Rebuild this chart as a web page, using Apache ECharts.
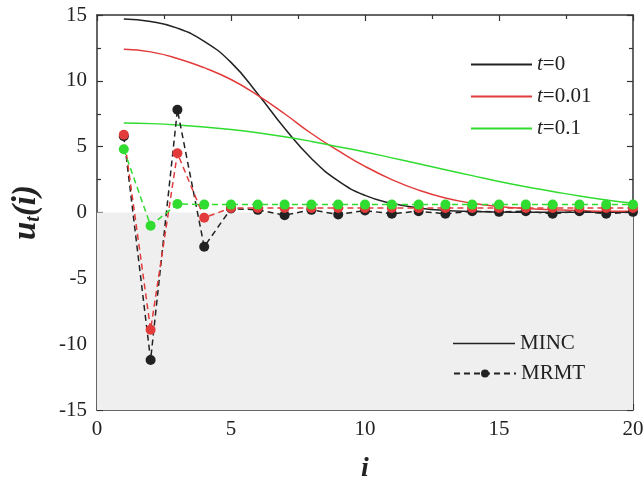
<!DOCTYPE html>
<html>
<head>
<meta charset="utf-8">
<script src="https://cdn.jsdelivr.net/npm/echarts@6/dist/echarts.min.js"></script>
<style>
  html, body { margin: 0; padding: 0; background: #fff; }
  #main { width: 643px; height: 480px; }
</style>
</head>
<body>
<div id="main"></div>
<script>
// index i
const idx = [1, 2, 3, 4, 5, 6, 7, 8, 9, 10, 11, 12, 13, 14, 15, 16, 17, 18, 19, 20];

// MINC curves
const mincT0   = [14.7, 14.5, 14.0, 13.0, 11.4, 9.0, 6.4, 4.1, 2.4, 1.3, 0.7, 0.35, 0.15, 0.08, 0.04, 0.02, 0.01, 0.01, 0.01, 0.01];
const mincT001 = [12.4, 12.2, 11.7, 11.0, 10.1, 8.9, 7.5, 6.0, 4.7, 3.5, 2.5, 1.7, 1.1, 0.7, 0.45, 0.3, 0.2, 0.15, 0.1, 0.1];
const mincT01  = [6.8, 6.75, 6.65, 6.5, 6.3, 6.05, 5.75, 5.4, 5.0, 4.6, 4.15, 3.7, 3.25, 2.8, 2.35, 1.95, 1.6, 1.25, 0.95, 0.7];

// MRMT points
const mrmtT0   = [5.8, -11.2, 7.8, -2.6, 0.3, 0.2, -0.2, 0.2, -0.15, 0.15, -0.1, 0.1, -0.1, 0.1, 0.05, 0.1, -0.1, 0.1, -0.1, 0.05];
const mrmtT001 = [5.9, -8.9, 4.5, -0.4, 0.35, 0.35, 0.35, 0.35, 0.35, 0.35, 0.35, 0.35, 0.35, 0.35, 0.35, 0.35, 0.35, 0.35, 0.35, 0.35];
const mrmtT01  = [4.8, -1.0, 0.65, 0.6, 0.6, 0.6, 0.6, 0.6, 0.6, 0.6, 0.6, 0.6, 0.6, 0.6, 0.6, 0.6, 0.6, 0.6, 0.6, 0.6];

const cBlack = '#222222';
const cRed = '#e23b3b';
const cGreen = '#2fdc2f';
const serif = 'Liberation Serif';

function pairs(ys) { return idx.map((x, k) => [x, ys[k]]); }

let myChart = echarts.init(document.getElementById('main'));

function curve(name, ys, color) {
    return {
        name: name, type: 'line', data: pairs(ys), smooth: true, symbol: 'none',
        lineStyle: { color: color, width: 1.5 }, itemStyle: { color: color }, z: 3
    };
}
function dots(name, ys, color) {
    return {
        name: name, type: 'line', data: pairs(ys), symbol: 'circle', symbolSize: 10,
        lineStyle: { color: color, width: 1.5, type: [6, 4] }, itemStyle: { color: color }, z: 4
    };
}

const tickAxisX = (show) => ({
    type: 'value', min: 0, max: 20, interval: 5,
    axisLine: { show: true, onZero: false, lineStyle: { color: '#333', width: 1.5 } },
    axisTick: { show: true, inside: true, length: 6, lineStyle: { color: '#333', width: 1.2 } },
    minorTick: { show: true, splitNumber: 2, length: 4, lineStyle: { color: '#333', width: 1.2 } },
    axisLabel: { show: show, color: '#222', fontFamily: serif, fontSize: 21, margin: 9 },
    splitLine: { show: false }
});
const tickAxisY = (show) => ({
    type: 'value', min: -15, max: 15, interval: 5,
    axisLine: { show: true, onZero: false, lineStyle: { color: '#333', width: 1.5 } },
    axisTick: { show: true, inside: true, length: 6, lineStyle: { color: '#333', width: 1.2 } },
    minorTick: { show: true, splitNumber: 2, length: 4, lineStyle: { color: '#333', width: 1.2 } },
    axisLabel: { show: show, color: '#222', fontFamily: serif, fontSize: 21, margin: 10 },
    splitLine: { show: false }
});

let xBottom = Object.assign(tickAxisX(true), {
    position: 'bottom',
    name: 'i', nameLocation: 'middle', nameGap: 45,
    nameTextStyle: { fontFamily: serif, fontSize: 28, fontStyle: 'italic', fontWeight: 'bold', color: '#222' }
});
let xTop = Object.assign(tickAxisX(false), { position: 'top' });
let yLeft = Object.assign(tickAxisY(true), {
    position: 'left',
    name: '{u|u}{s|t}{u|(i)}', nameLocation: 'middle', nameGap: 53, nameRotate: 90,
    nameTextStyle: {
        color: '#222',
        rich: {
            u: { fontFamily: serif, fontSize: 33, fontStyle: 'italic', fontWeight: 'bold', color: '#222' },
            s: { fontFamily: serif, fontSize: 20, fontStyle: 'italic', fontWeight: 'bold', color: '#222', padding: [16, 0, 0, 0] }
        }
    }
});
let yRight = Object.assign(tickAxisY(false), { position: 'right' });

let legendText = {
    fontFamily: serif, fontSize: 21, color: '#222',
    rich: { i: { fontFamily: serif, fontSize: 21, fontStyle: 'italic', color: '#222' } }
};

let option = {
    animation: false,
    backgroundColor: '#fff',
    grid: { left: 97, right: 10, top: 15, bottom: 70, outerBoundsMode: 'none', containLabel: false },
    xAxis: [xBottom, xTop],
    yAxis: [yLeft, yRight],
    legend: [
        {
            data: ['t=0', 't=0.01', 't=0.1'],
            orient: 'vertical', left: 466, top: 49, itemGap: 11,
            icon: 'rect', itemWidth: 61, itemHeight: 2,
            formatter: (name) => '{i|t}' + name.slice(1),
            textStyle: legendText
        },
        {
            data: ['MINC'],
            left: 448, top: 328,
            icon: 'rect', itemWidth: 62, itemHeight: 1.5,
            textStyle: legendText
        },
        {
            data: ['MRMT'],
            left: 448, top: 358,
            itemWidth: 62, itemHeight: 10,
            textStyle: legendText
        }
    ],
    series: [
        {
            name: 'shade', type: 'line', data: [], silent: true,
            markArea: {
                silent: true,
                itemStyle: { color: '#efefef' },
                data: [[{ yAxis: -15 }, { yAxis: 0 }]]
            },
            z: 1
        },
        curve('t=0', mincT0, cBlack),
        curve('t=0.01', mincT001, cRed),
        curve('t=0.1', mincT01, cGreen),
        dots('mrmt0', mrmtT0, cBlack),
        dots('mrmt001', mrmtT001, cRed),
        dots('mrmt01', mrmtT01, cGreen),
        {
            name: 'MINC', type: 'line', data: [], symbol: 'none',
            lineStyle: { color: cBlack, width: 1.5 }, itemStyle: { color: cBlack }
        },
        {
            name: 'MRMT', type: 'line', data: [], symbol: 'circle', symbolSize: 10,
            lineStyle: { color: cBlack, width: 1.5, type: [6, 4] }, itemStyle: { color: cBlack }
        }
    ]
};
myChart.setOption(option);
</script>
</body>
</html>
